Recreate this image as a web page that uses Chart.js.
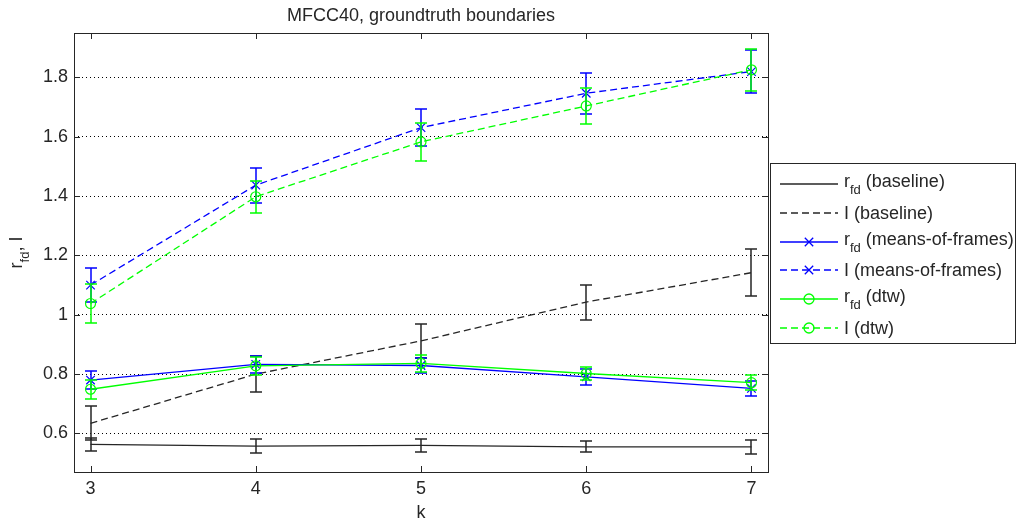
<!DOCTYPE html>
<html>
<head>
<meta charset="utf-8">
<title>MFCC40, groundtruth boundaries</title>
<script src="https://cdn.jsdelivr.net/npm/chart.js@4.4.1/dist/chart.umd.min.js"></script>
<style>
  html, body { margin: 0; padding: 0; background: #fff; }
  canvas { display: block; }
</style>
</head>
<body>
<canvas id="myChart" width="1019" height="524"></canvas>
<script>
// k on the x axis, tick values and labels
const kValues = [3, 4, 5, 6, 7];
const xTicks = [3, 4, 5, 6, 7];
const yTicks = [0.6, 0.8, 1.0, 1.2, 1.4, 1.6, 1.8];
const yTickLabels = ['0.6', '0.8', '1', '1.2', '1.4', '1.6', '1.8'];

// baseline
const rfdBaseline = [0.563, 0.557, 0.560, 0.555, 0.555];
const rfdBaselineErr = [0.021, 0.024, 0.022, 0.018, 0.024];
const lBaseline = [0.634, 0.800, 0.912, 1.043, 1.142];
const lBaselineErr = [0.057, 0.060, 0.057, 0.059, 0.079];

// means-of-frames
const rfdMof = [0.780, 0.833, 0.829, 0.791, 0.752];
const rfdMofErr = [0.029, 0.029, 0.025, 0.027, 0.026];
const lMof = [1.100, 1.437, 1.631, 1.747, 1.820];
const lMofErr = [0.057, 0.059, 0.063, 0.069, 0.072];

// dtw
const rfdDtw = [0.749, 0.828, 0.836, 0.802, 0.771];
const rfdDtwErr = [0.032, 0.030, 0.030, 0.022, 0.025];
const lDtw = [1.038, 1.398, 1.583, 1.704, 1.826];
const lDtwErr = [0.066, 0.054, 0.063, 0.062, 0.070];

const FONT = '"Liberation Sans", Arial, Helvetica, sans-serif';
const INK = '#262626';
const DASH = [7, 4];

// one line series; sub = true means the name is r with a "fd" subscript
function series(name, sub, values, errors, color, dashed, marker) {
    return {
        label: name,
        sub: sub,
        data: values.map((v, i) => ({x: kValues[i], y: v})),
        errors: errors,
        borderColor: color,
        backgroundColor: 'rgba(0,0,0,0)',
        borderWidth: 1.3,
        borderDash: dashed ? DASH : [],
        pointStyle: marker || 'circle',
        pointRadius: marker ? (marker === 'crossRot' ? 6 : 5) : 0,
        pointHoverRadius: 0,
        pointBorderColor: color,
        pointBackgroundColor: 'rgba(0,0,0,0)',
        pointBorderWidth: 1.2,
        tension: 0
    };
}

const datasets = [
    series(' (baseline)', true, rfdBaseline, rfdBaselineErr, INK, false, null),
    series('I (baseline)', false, lBaseline, lBaselineErr, INK, true, null),
    series(' (means-of-frames)', true, rfdMof, rfdMofErr, '#0000ff', false, 'crossRot'),
    series('I (means-of-frames)', false, lMof, lMofErr, '#0000ff', true, 'crossRot'),
    series(' (dtw)', true, rfdDtw, rfdDtwErr, '#00ff00', false, 'circle'),
    series('I (dtw)', false, lDtw, lDtwErr, '#00ff00', true, 'circle')
];
// later series are drawn on top
datasets.forEach((d, i) => { d.order = datasets.length - 1 - i; });

// draws "r" with a "fd" subscript followed by rest
function drawSubLabel(ctx, x, y, rest) {
    ctx.font = '18px ' + FONT;
    ctx.fillText('r', x, y);
    x += ctx.measureText('r').width;
    ctx.font = '13px ' + FONT;
    ctx.fillText('fd', x, y + 7);
    x += ctx.measureText('fd').width;
    ctx.font = '18px ' + FONT;
    ctx.fillText(rest, x, y);
}

function subLabelWidth(ctx, rest) {
    ctx.font = '18px ' + FONT;
    let w = ctx.measureText('r').width + ctx.measureText(rest).width;
    ctx.font = '13px ' + FONT;
    return w + ctx.measureText('fd').width;
}

// vertical error bars with caps, drawn right after each dataset
const errorBars = {
    id: 'errorBars',
    afterDatasetDraw(chart, args) {
        const ds = chart.data.datasets[args.index];
        if (!ds.errors) return;
        const ctx = chart.ctx;
        const xs = chart.scales.x, ys = chart.scales.y;
        ctx.save();
        ctx.strokeStyle = ds.borderColor;
        ctx.lineWidth = 1.5;
        ds.data.forEach((p, i) => {
            const px = Math.round(xs.getPixelForValue(p.x));
            const top = Math.round(ys.getPixelForValue(p.y + ds.errors[i]));
            const bot = Math.round(ys.getPixelForValue(p.y - ds.errors[i]));
            ctx.beginPath();
            ctx.moveTo(px, top);
            ctx.lineTo(px, bot);
            ctx.moveTo(px - 6, top);
            ctx.lineTo(px + 6, top);
            ctx.moveTo(px - 6, bot);
            ctx.lineTo(px + 6, bot);
            ctx.stroke();
        });
        ctx.restore();
    }
};

// axes box, inward ticks, title, axis titles and the legend
const frame = {
    id: 'frame',
    afterDraw(chart) {
        const ctx = chart.ctx;
        const a = chart.chartArea;
        const xs = chart.scales.x, ys = chart.scales.y;
        ctx.save();
        ctx.strokeStyle = INK;
        ctx.lineWidth = 1;
        ctx.strokeRect(Math.round(a.left) + 0.5, Math.round(a.top) + 0.5,
            Math.round(a.right - a.left), Math.round(a.bottom - a.top));

        ctx.beginPath();
        xTicks.forEach(v => {
            const px = Math.round(xs.getPixelForValue(v)) + 0.5;
            ctx.moveTo(px, a.bottom); ctx.lineTo(px, a.bottom - 6);
            ctx.moveTo(px, a.top); ctx.lineTo(px, a.top + 6);
        });
        yTicks.forEach(v => {
            const py = Math.round(ys.getPixelForValue(v)) + 0.5;
            ctx.moveTo(a.left, py); ctx.lineTo(a.left + 6, py);
            ctx.moveTo(a.right, py); ctx.lineTo(a.right - 6, py);
        });
        ctx.stroke();

        ctx.fillStyle = INK;
        ctx.textAlign = 'center';
        ctx.textBaseline = 'alphabetic';
        ctx.font = '18px ' + FONT;
        ctx.fillText('MFCC40, groundtruth boundaries', (a.left + a.right) / 2, 21);
        ctx.fillText('k', (a.left + a.right) / 2, 518);

        // y axis title, rotated
        ctx.save();
        ctx.translate(22, (a.top + a.bottom) / 2);
        ctx.rotate(-Math.PI / 2);
        ctx.textAlign = 'left';
        const w = subLabelWidth(ctx, ', I');
        drawSubLabel(ctx, -w / 2, 0, ', I');
        ctx.restore();

        // legend box outside the plot on the right
        const lx = 770, ly = 163, lw = 246, lh = 181;
        ctx.fillStyle = '#fff';
        ctx.fillRect(lx, ly, lw, lh);
        ctx.strokeRect(lx + 0.5, ly + 0.5, lw - 1, lh - 1);
        ctx.textAlign = 'left';
        chart.data.datasets.forEach((ds, i) => {
            const y = Math.round(ly + 21 + i * 28.8);
            ctx.strokeStyle = ds.borderColor;
            ctx.lineWidth = 1.3;
            ctx.setLineDash(ds.borderDash);
            ctx.beginPath();
            ctx.moveTo(780, y);
            ctx.lineTo(838, y);
            ctx.stroke();
            ctx.setLineDash([]);
            if (ds.pointRadius > 0) {
                ctx.beginPath();
                if (ds.pointStyle === 'circle') {
                    ctx.arc(809, y, ds.pointRadius, 0, Math.PI * 2);
                } else {
                    const r = ds.pointRadius * 0.7;
                    ctx.moveTo(809 - r, y - r); ctx.lineTo(809 + r, y + r);
                    ctx.moveTo(809 - r, y + r); ctx.lineTo(809 + r, y - r);
                }
                ctx.stroke();
            }
            ctx.fillStyle = INK;
            if (ds.sub) {
                drawSubLabel(ctx, 844, y + 3, ds.label);
            } else {
                ctx.font = '18px ' + FONT;
                ctx.fillText(ds.label, 844, y + 6);
            }
        });
        ctx.restore();
    }
};

const ctx = document.getElementById('myChart').getContext('2d');
const myChart = new Chart(ctx, {
    type: 'line',
    data: { datasets: datasets },
    options: {
        responsive: false,
        animation: false,
        devicePixelRatio: 1,
        events: [],
        layout: { padding: { left: 0, right: 251, top: 33, bottom: 0 } },
        plugins: {
            legend: { display: false },
            title: { display: false },
            tooltip: { enabled: false }
        },
        scales: {
            x: {
                type: 'linear',
                min: 2.9,
                max: 7.1,
                afterBuildTicks: scale => { scale.ticks = xTicks.map(v => ({value: v})); },
                afterFit: scale => { scale.height = 52; },
                grid: { display: false, drawTicks: false },
                border: { display: false },
                ticks: {
                    padding: 6,
                    color: INK,
                    font: { family: FONT, size: 18 },
                    maxRotation: 0,
                    autoSkip: false,
                    callback: v => String(v)
                }
            },
            y: {
                type: 'linear',
                min: 0.47,
                max: 1.95,
                afterBuildTicks: scale => { scale.ticks = yTicks.map(v => ({value: v})); },
                afterFit: scale => { scale.width = 74; },
                grid: { color: '#000', lineWidth: 1, drawTicks: false },
                border: { display: false, dash: [1, 3] },
                ticks: {
                    padding: 6,
                    color: INK,
                    font: { family: FONT, size: 18 },
                    autoSkip: false,
                    callback: (v, i) => yTickLabels[i]
                }
            }
        }
    },
    plugins: [errorBars, frame]
});
</script>
</body>
</html>
